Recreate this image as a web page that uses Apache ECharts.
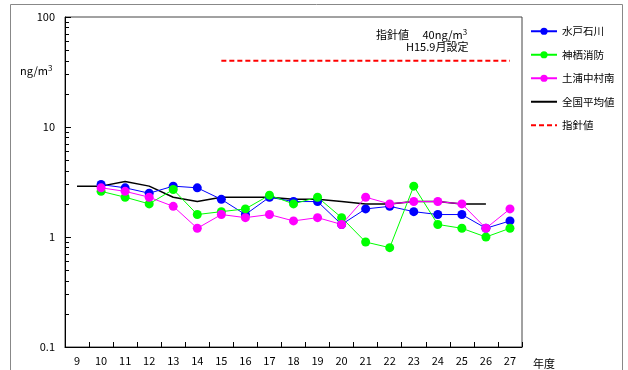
<!DOCTYPE html>
<html>
<head>
<meta charset="utf-8">
<script src="https://cdn.jsdelivr.net/npm/echarts@6/dist/echarts.min.js"></script>
<style>
  html, body { margin: 0; padding: 0; background: #fff; }
  #chart { width: 628px; height: 370px; }
</style>
</head>
<body>
<div id="chart"></div>
<script>
// Fiscal years (平成)
const years = ['9','10','11','12','13','14','15','16','17','18','19','20','21','22','23','24','25','26','27'];

// Annual means, ng/m3 (null = no measurement)
const mitoIshikawa = [null, 3.0, 2.8, 2.5, 2.9, 2.8, 2.2, 1.6, 2.3, 2.1, 2.1, 1.3, 1.8, 1.9, 1.7, 1.6, 1.6, 1.2, 1.4];
const kamisuShobo  = [null, 2.6, 2.3, 2.0, 2.7, 1.6, 1.7, 1.8, 2.4, 2.0, 2.3, 1.5, 0.9, 0.8, 2.9, 1.3, 1.2, 1.0, 1.2];
const tsuchiuraNakamuraminami = [null, 2.8, 2.6, 2.3, 1.9, 1.2, 1.6, 1.5, 1.6, 1.4, 1.5, 1.3, 2.3, 2.0, 2.1, 2.1, 2.0, 1.2, 1.8];
const nationalAverage = [2.9, 2.9, 3.2, 2.9, 2.3, 2.1, 2.3, 2.3, 2.3, 2.2, 2.2, 2.1, 2.0, 2.0, 2.1, 2.1, 2.0, 2.0, null];
// Guideline value (set Sept. H15)
const guideline = [null, null, null, null, null, null, 40, 40, 40, 40, 40, 40, 40, 40, 40, 40, 40, 40, 40];

const yTickLabels = [0.1, 1, 10, 100];

const FONT = '"Noto Sans CJK JP", "Noto Sans", sans-serif';

const chart = echarts.init(document.getElementById('chart'));

function markerSeries(name, data, color) {
  return {
    name: name,
    type: 'line',
    data: data,
    symbol: 'circle',
    symbolSize: 9,
    showSymbol: true,
    connectNulls: false,
    itemStyle: { color: color },
    lineStyle: { color: color, width: 1 },
    emphasis: { disabled: true }
  };
}

chart.setOption({
  backgroundColor: '#fff',
  animation: false,
  textStyle: { fontFamily: FONT, color: '#000' },
  grid: {
    left: 65, right: 106, top: 17, bottom: 23,
    show: true,
    borderColor: '#444',
    borderWidth: 1,
    backgroundColor: 'transparent'
  },
  legend: {
    orient: 'vertical',
    left: 530,
    top: 26,
    padding: 0,
    itemWidth: 26,
    itemHeight: 9,
    itemGap: 13,
    textStyle: { fontSize: 10.5, color: '#000', fontFamily: FONT },
    data: [
      { name: '水戸石川' },
      { name: '神栖消防' },
      { name: '土浦中村南' },
      { name: '全国平均値', itemStyle: { opacity: 0 } },
      { name: '指針値', itemStyle: { opacity: 0 } }
    ]
  },
  xAxis: {
    type: 'category',
    data: years,
    boundaryGap: true,
    axisLine: { lineStyle: { color: '#000', width: 1 } },
    axisTick: { show: true, inside: true, length: 5, interval: 0, lineStyle: { color: '#000' } },
    axisLabel: { fontSize: 11, color: '#000', margin: 8, interval: 0, fontFamily: FONT },
    splitLine: { show: false }
  },
  yAxis: {
    type: 'log',
    logBase: 10,
    min: yTickLabels[0],
    max: yTickLabels[yTickLabels.length - 1],
    axisLine: { show: true, lineStyle: { color: '#000', width: 1 } },
    axisTick: { show: true, inside: true, length: 6, lineStyle: { color: '#000' } },
    minorTick: { show: true, splitNumber: 9, length: 4, lineStyle: { color: '#000' } },
    axisLabel: {
      fontSize: 11, color: '#000', margin: 10, fontFamily: FONT,
      formatter: function (v) {
        const hit = yTickLabels.find(t => Math.abs(t - v) / t < 1e-6);
        return hit !== undefined ? String(hit) : '';
      }
    },
    splitLine: { show: false },
    minorSplitLine: { show: false }
  },
  series: [
    markerSeries('水戸石川', mitoIshikawa, '#0000ff'),
    markerSeries('神栖消防', kamisuShobo, '#00ff00'),
    markerSeries('土浦中村南', tsuchiuraNakamuraminami, '#ff00ff'),
    {
      name: '全国平均値',
      type: 'line',
      data: nationalAverage,
      symbol: 'none',
      itemStyle: { color: '#000' },
      lineStyle: { color: '#000', width: 1.5 },
      emphasis: { disabled: true },
      z: 1
    },
    {
      name: '指針値',
      type: 'line',
      data: guideline,
      symbol: 'none',
      itemStyle: { color: '#ff0000' },
      lineStyle: { color: '#ff0000', width: 2, type: [5, 3] },
      emphasis: { disabled: true }
    }
  ],
  graphic: [
    {
      type: 'rect',
      shape: { x: 10.5, y: 4.5, width: 612, height: 380 },
      style: { fill: 'none', stroke: '#888', lineWidth: 1 },
      silent: true, z: -10
    },
    {
      type: 'text',
      left: 20, top: 64,
      style: {
        text: '{b|ng/m}{s|3}',
        rich: {
          b: { fontSize: 11, fontFamily: FONT, fill: '#000' },
          s: { fontSize: 8, fontFamily: FONT, fill: '#000', verticalAlign: 'top', padding: [0, 0, 6, 0] }
        }
      }
    },
    {
      type: 'text',
      left: 376, top: 28,
      style: {
        text: '{b|指針値　 40ng/m}{s|3}',
        rich: {
          b: { fontSize: 11, fontFamily: FONT, fill: '#000' },
          s: { fontSize: 8, fontFamily: FONT, fill: '#000', padding: [0, 0, 6, 0] }
        }
      }
    },
    {
      type: 'text',
      left: 406, top: 41,
      style: { text: 'H15.9月設定', fontSize: 11, fontFamily: FONT, fill: '#000' }
    },
    {
      type: 'text',
      left: 533, top: 358,
      style: { text: '年度', fontSize: 11, fontFamily: FONT, fill: '#000' }
    }
  ]
});
</script>
</body>
</html>
